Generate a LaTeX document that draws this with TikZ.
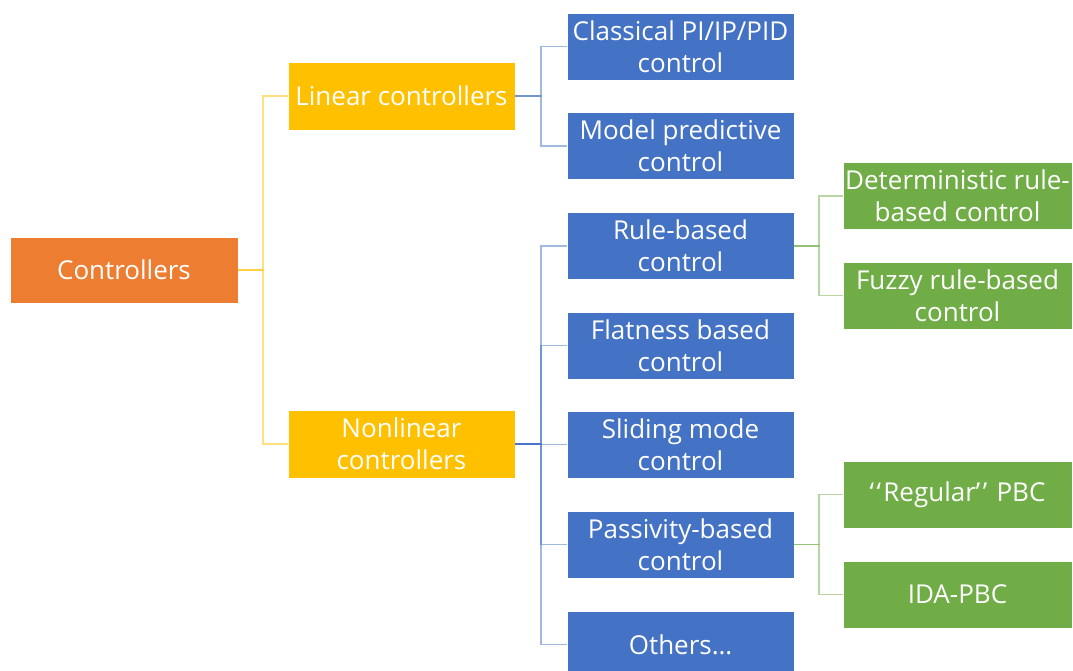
\documentclass[tikz,border=0pt]{standalone}
\usepackage{fontspec}
\setmainfont{Open Sans}
\definecolor{cOrange}{HTML}{ED7D31}
\definecolor{cGold}{HTML}{FFC000}
\definecolor{cBlue}{HTML}{4472C4}
\definecolor{cGreen}{HTML}{70AD47}
\tikzset{
  box/.style={rectangle, draw=white, line width=0.6pt, text=white, align=center,
    font=\fontsize{26}{32}\selectfont, inner sep=0pt},
  rootbox/.style={box, fill=cOrange, minimum width=228, minimum height=66},
  levA/.style={box, fill=cGold, minimum width=227, minimum height=68},
  levB/.style={box, fill=cBlue, minimum width=227, minimum height=67},
  levC/.style={box, fill=cGreen, minimum width=229, minimum height=67},
  link/.style={line width=1.6pt, draw opacity=0.5},
}
% single quote marks set in separate boxes so they stay two glyphs
\newcommand{\oneopen}{\mbox{\char"2018}\kern2.5pt}
\newcommand{\oneclose}{\mbox{\char"2019}\kern2.5pt}
\begin{document}
\begin{tikzpicture}[x=1pt, y=-1pt]
\useasboundingbox (0,0) rectangle (1073,670);

% root
\node[rootbox] (root) at (124,270) {Controllers};

% first level
\node[levA] (lin) at (401.5,96) {Linear controllers};
\node[levA] (nonlin) at (401.5,444) {Nonlinear\\controllers};

% second level
\node[levB] (pid) at (680.5,46.5) {Classical PI/IP/PID\\control};
\node[levB] (mpc) at (680.5,146) {Model predictive\\control};
\node[levB] (rule) at (680.5,246) {Rule-based\\control};
\node[levB] (flat) at (680.5,345.5) {Flatness based\\control};
\node[levB] (smc) at (680.5,444.5) {Sliding mode\\control};
\node[levB] (pbc) at (680.5,544.5) {Passivity-based\\control};
\node[levB] (oth) at (680.5,644.5) {Others\dots};

% third level
\node[levC] (det) at (957.5,196) {Deterministic rule-\\based control};
\node[levC] (fuz) at (957.5,295.5) {Fuzzy rule-based\\control};
\node[levC] (reg) at (957.5,494.5) {\oneopen\oneopen Regular\oneclose\oneclose{} PBC};
\node[levC] (ida) at (957.5,594.5) {IDA-PBC};

% elbow connectors, overlapping strokes darken near the parent
\foreach \c in {lin,nonlin}
  \draw[link, cGold] (root.east) -- (263,270) |- (\c.west);
\foreach \c in {pid,mpc}
  \draw[link, cBlue] (lin.east) -- (541,96) |- (\c.west);
\foreach \c in {rule,flat,smc,pbc,oth}
  \draw[link, cBlue] (nonlin.east) -- (541,444) |- (\c.west);
\foreach \c in {det,fuz}
  \draw[link, cGreen] (rule.east) -- (819,246) |- (\c.west);
\foreach \c in {reg,ida}
  \draw[link, cGreen] (pbc.east) -- (819,544.5) |- (\c.west);
\end{tikzpicture}
\end{document}
